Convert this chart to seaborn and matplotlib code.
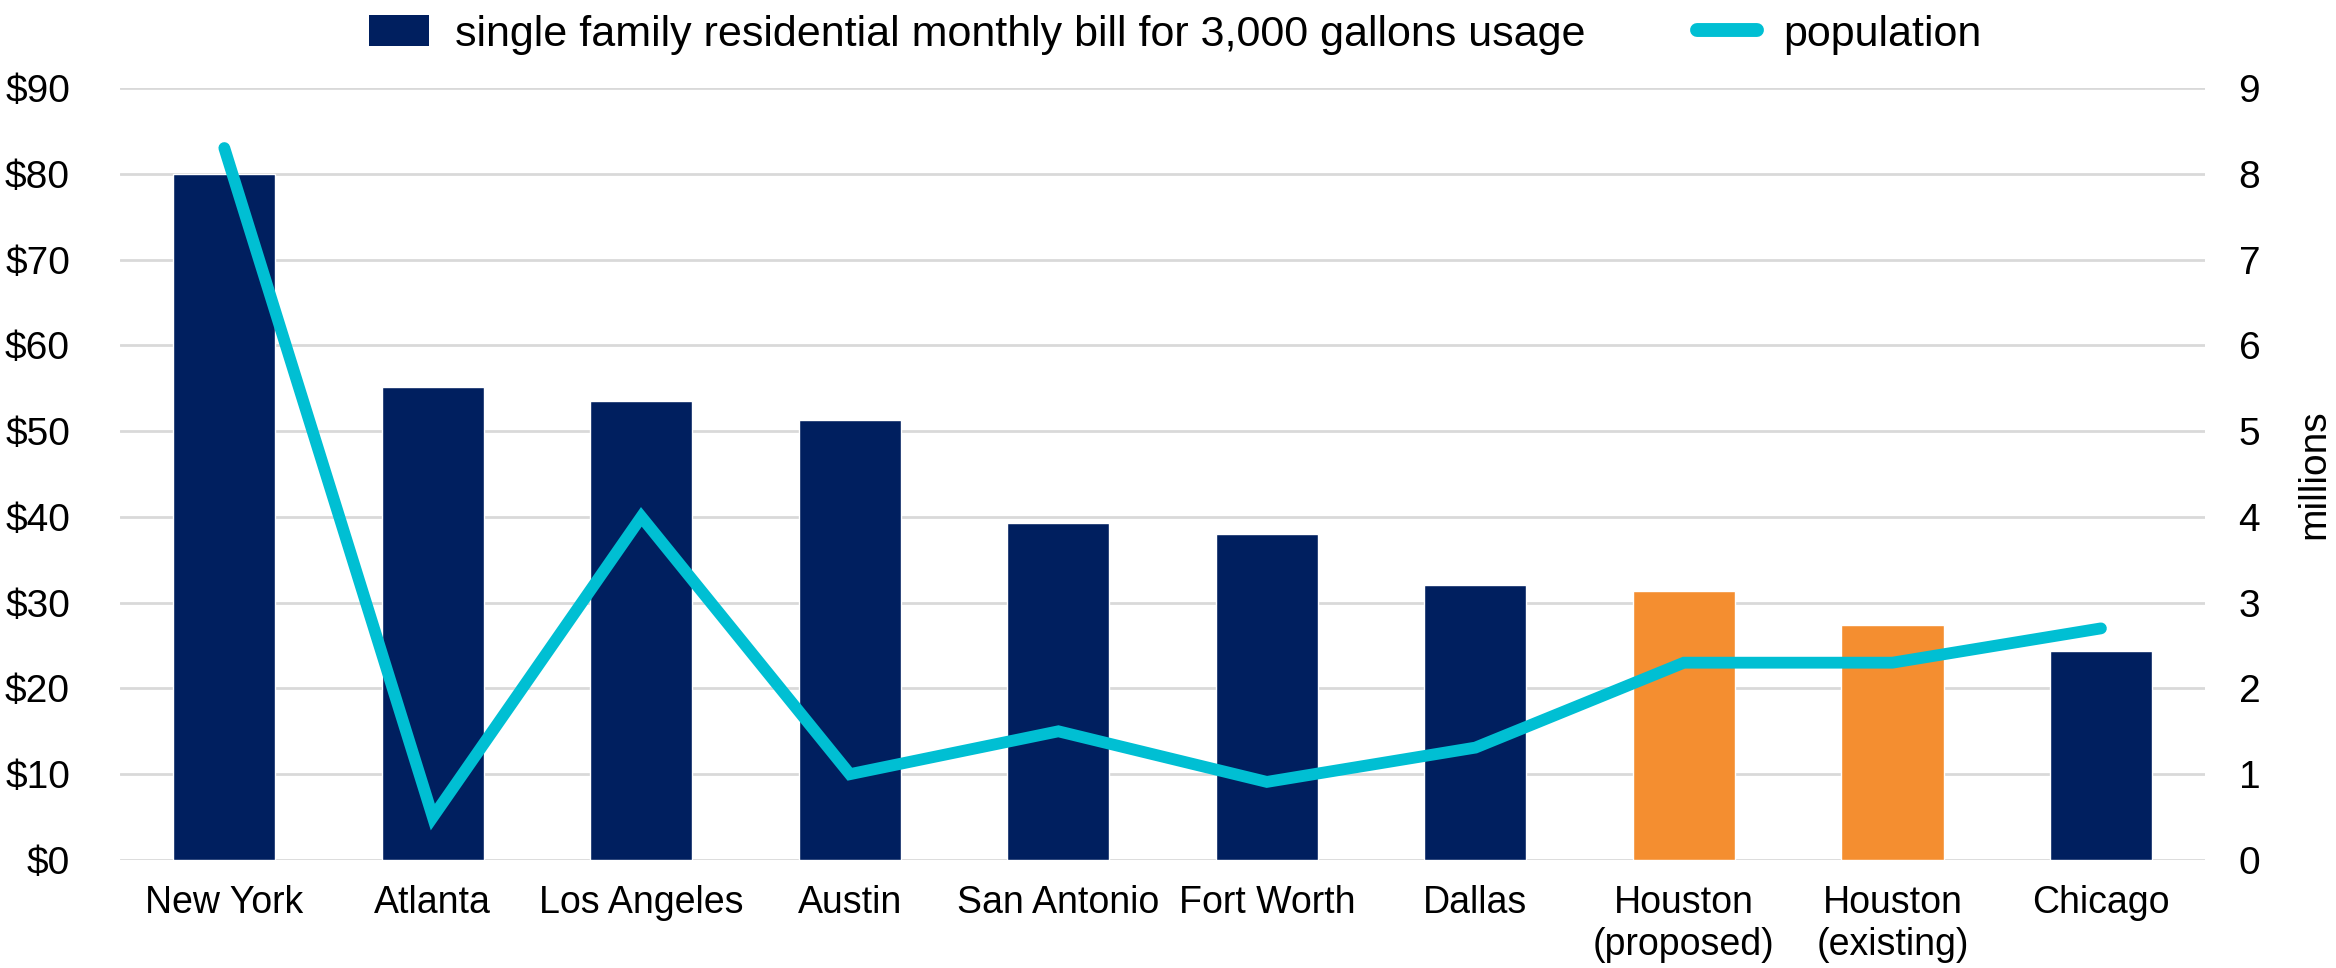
import numpy as np
import matplotlib
matplotlib.use("Agg")
import matplotlib.pyplot as plt
from matplotlib.patches import Patch
from matplotlib.lines import Line2D
import seaborn as sns

# values
cities = ["New York", "Atlanta", "Los Angeles", "Austin", "San Antonio", "Fort Worth",
          "Dallas", "Houston\n(proposed)", "Houston\n(existing)", "Chicago"]
monthly_bill = [80.0, 55.1, 53.5, 51.3, 39.3, 38.0, 32.1, 31.3, 27.4, 24.4]
population = [8.3, 0.5, 4.0, 1.0, 1.5, 0.91, 1.31, 2.3, 2.3, 2.7]
bar_colors = ["#001F5F", "#001F5F", "#001F5F", "#001F5F", "#001F5F", "#001F5F",
              "#001F5F", "#F48E30", "#F48E30", "#001F5F"]
left_ticks = [0, 10, 20, 30, 40, 50, 60, 70, 80, 90]
right_ticks = [0, 1, 2, 3, 4, 5, 6, 7, 8, 9]

NAVY = "#001F5F"
CYAN = "#00BFD3"
GRID = "#D9D9D9"

sns.set_theme(style="white")
plt.rcParams['font.family'] = ['Liberation Sans', 'DejaVu Sans']
plt.rcParams['text.color'] = 'black'
FS = 28

fig = plt.figure(figsize=(23.36, 9.68), dpi=100)
ax = fig.add_axes([0.0514, 0.1116, 0.8926, 0.7975])

sns.barplot(x=cities, y=monthly_bill, hue=cities, palette=bar_colors, legend=False,
            width=0.49, saturation=1, ax=ax)
ax.set_xlim(-0.5, 9.5)
ax.set_ylim(0, 90)
ax.set_yticks(left_ticks)
ax.set_yticklabels(["${}".format(t) for t in left_ticks])
ax.yaxis.grid(True, color=GRID, linewidth=2)
ax.set_axisbelow(True)
for s in ax.spines.values():
    s.set_visible(False)
ax.tick_params(axis="y", length=0, pad=36, labelsize=FS, labelcolor="black")
ax.tick_params(axis="x", length=0, pad=18, labelsize=FS - 1, labelcolor="black")
ax.set_xlabel("")
ax.set_ylabel("")

ax2 = ax.twinx()
sns.lineplot(x=np.arange(len(cities)), y=population, color=CYAN, linewidth=8.5,
             solid_capstyle="round", solid_joinstyle="miter", ax=ax2)
ax2.set_ylim(0, 9)
ax2.set_yticks(right_ticks)
ax2.grid(False)
for s in ax2.spines.values():
    s.set_visible(False)
ax2.tick_params(axis="y", length=0, pad=24, labelsize=FS, labelcolor="black")
ax2.set_ylabel("millions", fontsize=FS, color="black", labelpad=26)

handles = [Patch(facecolor=NAVY, edgecolor="none"),
           Line2D([0], [0], color=CYAN, linewidth=10, solid_capstyle="round")]
labels = ["single family residential monthly bill for 3,000 gallons usage", "population"]
fig.legend(handles, labels, loc="upper center", bbox_to_anchor=(0.503, 1.025), ncol=2,
           frameon=False, fontsize=31, handlelength=1.4, handleheight=0.75,
           handletextpad=0.6, columnspacing=2.6, labelcolor="black")

fig.savefig("out.png", dpi=100)
